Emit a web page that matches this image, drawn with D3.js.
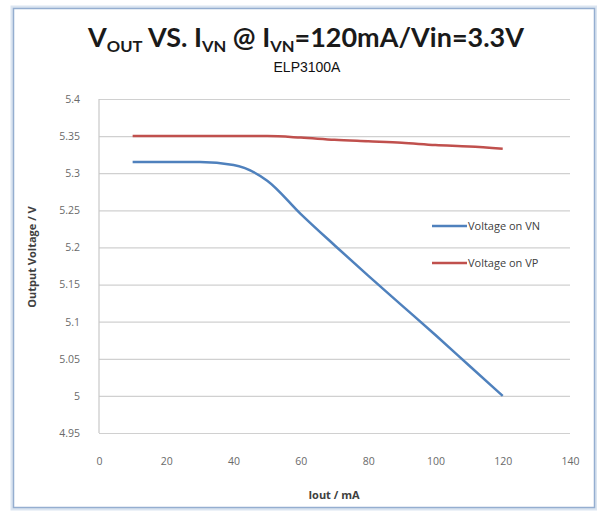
<!DOCTYPE html>
<html>
<head>
<meta charset="utf-8">
<script src="https://cdn.jsdelivr.net/npm/d3@7/dist/d3.min.js"></script>
<style>
  html, body { margin: 0; padding: 0; background: #fff; }
  svg { display: block; }
</style>
</head>
<body>
<svg id="chart"></svg>
<script>
// ── Data ─────────────────────────────────────────────────────────────────────
const iout   = [10, 20, 30, 40, 50, 60, 70, 80, 90, 100, 110, 120];
const vnVolt = [5.315, 5.315, 5.315, 5.311, 5.29, 5.245, 5.203, 5.162, 5.122, 5.082, 5.041, 5.0];
const vpVolt = [5.35, 5.35, 5.35, 5.35, 5.35, 5.348, 5.345, 5.343, 5.341, 5.338, 5.336, 5.333];
const seriesNames = ['Voltage on VN', 'Voltage on VP'];
const xTicks = [0, 20, 40, 60, 80, 100, 120, 140];
const yTicks = [4.95, 5, 5.05, 5.1, 5.15, 5.2, 5.25, 5.3, 5.35, 5.4];

const W = 597, H = 512;
const svg = d3.select('#chart').attr('width', W).attr('height', H);

// ── Frame ────────────────────────────────────────────────────────────────────
svg.append('rect')
    .attr('x', 12.5).attr('y', 7.5).attr('width', 583).attr('height', 501)
    .attr('fill', 'none').attr('stroke', '#dbe5f1').attr('stroke-width', 4);
svg.append('rect')
    .attr('x', 13.5).attr('y', 8.5).attr('width', 581).attr('height', 499)
    .attr('fill', '#fff').attr('stroke', '#95aed0').attr('stroke-width', 1.5);

// ── Scales ───────────────────────────────────────────────────────────────────
const plot = { left: 99, right: 570, top: 99, bottom: 433 };
const x = d3.scaleLinear().domain([0, 140]).range([plot.left, plot.right]);
const y = d3.scaleLinear().domain([4.95, 5.4]).range([plot.bottom, plot.top]);

// ── Gridlines ────────────────────────────────────────────────────────────────
svg.append('g')
    .attr('transform', `translate(${plot.left},0)`)
    .call(d3.axisLeft(y).tickValues(yTicks).tickSize(-(plot.right - plot.left)).tickFormat(''))
    .call(g => g.select('.domain').remove())
    .call(g => g.selectAll('.tick line').attr('stroke', '#d0d0d0').attr('stroke-width', 1.2));

// left axis line
svg.append('line')
    .attr('x1', plot.left).attr('x2', plot.left)
    .attr('y1', plot.top).attr('y2', plot.bottom)
    .attr('stroke', '#c8c8c8').attr('stroke-width', 1.2);

// ── Tick labels ──────────────────────────────────────────────────────────────
svg.append('g')
    .attr('transform', `translate(${plot.left - 16},0)`)
    .call(d3.axisLeft(y).tickValues(yTicks).tickSize(0).tickFormat(d => String(+d.toFixed(2))))
    .call(g => g.select('.domain').remove())
    .call(g => g.selectAll('text')
        .attr('font-family', 'Open Sans, sans-serif').attr('font-size', 10.5).attr('fill', '#6a6a6a'));

svg.append('g')
    .attr('transform', `translate(0,${plot.bottom + 22})`)
    .call(d3.axisBottom(x).tickValues(xTicks).tickSize(0))
    .call(g => g.select('.domain').remove())
    .call(g => g.selectAll('text')
        .attr('font-family', 'Open Sans, sans-serif').attr('font-size', 10.5).attr('fill', '#6a6a6a'));

// ── Axis titles ──────────────────────────────────────────────────────────────
svg.append('text')
    .attr('x', 334).attr('y', 499).attr('text-anchor', 'middle')
    .attr('font-family', 'Open Sans, sans-serif').attr('font-weight', 'bold')
    .attr('font-size', 11).attr('fill', '#404040')
    .text('Iout / mA');

svg.append('text')
    .attr('transform', 'translate(36,257) rotate(-90)').attr('text-anchor', 'middle')
    .attr('font-family', 'Open Sans, sans-serif').attr('font-weight', 'bold')
    .attr('font-size', 11).attr('fill', '#404040')
    .text('Output Voltage / V');

// ── Titles ───────────────────────────────────────────────────────────────────
const title = svg.append('text')
    .attr('x', 306).attr('y', 47).attr('text-anchor', 'middle')
    .attr('font-family', 'Lato, sans-serif').attr('font-weight', 'bold')
    .attr('font-size', 26).attr('fill', '#1a1a1a')
    .attr('textLength', 436).attr('lengthAdjust', 'spacingAndGlyphs');
const sub = (t) => title.append('tspan').attr('font-size', 16).attr('dy', 5).text(t);
const up = (t) => title.append('tspan').attr('dy', -5).text(t);
title.append('tspan').text('V');
sub('OUT');
up(' VS. I');
sub('VN');
up('  @ I');
sub('VN');
up('=120mA/Vin=3.3V');

svg.append('text')
    .attr('x', 307).attr('y', 72).attr('text-anchor', 'middle')
    .attr('font-family', 'Liberation Sans, Arial, sans-serif')
    .attr('font-size', 14).attr('fill', '#111')
    .text('ELP3100A');

// ── Lines ────────────────────────────────────────────────────────────────────
const colors = ['#4f81bd', '#c0504d'];
const series = [vnVolt, vpVolt];
const line = d3.line()
    .x((d, i) => x(iout[i]))
    .y(d => y(d))
    .curve(d3.curveMonotoneX);

svg.append('g').selectAll('path')
    .data(series)
    .join('path')
    .attr('d', line)
    .attr('fill', 'none')
    .attr('stroke', (d, i) => colors[i])
    .attr('stroke-width', 2.5);

// ── Legend ───────────────────────────────────────────────────────────────────
const legend = svg.append('g').selectAll('g')
    .data(seriesNames)
    .join('g')
    .attr('transform', (d, i) => `translate(432,${226 + i * 37})`);
legend.append('line')
    .attr('x1', 0).attr('x2', 35)
    .attr('stroke', (d, i) => colors[i]).attr('stroke-width', 2.5);
legend.append('text')
    .attr('x', 36).attr('dy', '0.35em')
    .attr('font-family', 'Open Sans, sans-serif').attr('font-size', 11).attr('fill', '#404040')
    .text(d => d);
</script>
</body>
</html>
